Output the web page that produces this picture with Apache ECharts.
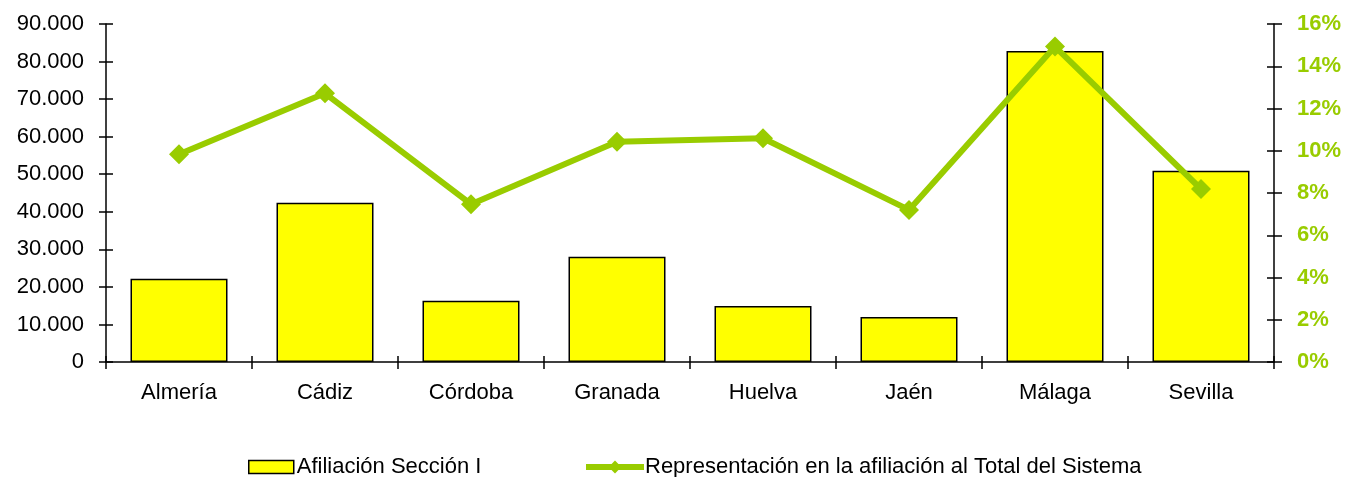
<!DOCTYPE html>
<html>
<head>
<meta charset="utf-8">
<script src="https://cdn.jsdelivr.net/npm/echarts@6/dist/echarts.min.js"></script>
<style>
html,body{margin:0;padding:0;background:#fff;}
#chart{width:1348px;height:477px;}
</style>
</head>
<body>
<div id="chart"></div>
<script>
const categories = ['Almería','Cádiz','Córdoba','Granada','Huelva','Jaén','Málaga','Sevilla'];
const afiliacion = [22200, 42400, 16300, 28000, 14900, 12000, 82800, 50900];
const representacion = [9.83, 12.72, 7.47, 10.43, 10.59, 7.20, 14.93, 8.19];
const barName = 'Afiliación Sección I';
const lineName = 'Representación en la afiliación al Total del Sistema';

const GREEN = '#99CC00';
const FONT = 'Liberation Sans, Arial, sans-serif';

function fmtThousands(v){
  return String(Math.round(v)).replace(/\B(?=(\d{3})+(?!\d))/g, '.');
}

const chart = echarts.init(document.getElementById('chart'), null, {renderer:'canvas'});
const leftBase = {type:'value', min:0, max:90000, interval:10000, position:'left', splitLine:{show:false}};
const rightBase = {type:'value', min:0, max:16, interval:2, position:'right', splitLine:{show:false}};
chart.setOption({
  animation:false,
  backgroundColor:'#fff',
  grid:{left:106, right:74, top:24, bottom:115, containLabel:false},
  legend:[
    {left:248, top:456, padding:0, itemWidth:45, itemHeight:13, itemGap:3,
     textStyle:{fontFamily:FONT, fontSize:22, color:'#000', padding:[0,0,0,-2]},
     data:[{name:barName, icon:'rect', itemStyle:{color:'#FFFF00', borderColor:'#000', borderWidth:1.5}}]},
    {left:583, top:456, padding:0, itemWidth:58, itemHeight:16, itemGap:3,
     textStyle:{fontFamily:FONT, fontSize:22, color:'#000', padding:[0,0,0,-4]},
     data:[{name:lineName, lineStyle:{width:6, color:GREEN}, itemStyle:{color:GREEN}}]}
  ],
  xAxis:[
    {type:'category', data:categories, boundaryGap:true,
     axisLine:{lineStyle:{color:'#000', width:1.5}},
     axisTick:{show:true, length:7, inside:false, lineStyle:{color:'#000', width:1.5}},
     axisLabel:{fontFamily:FONT, fontSize:22, color:'#000', margin:20}},
    {type:'category', data:categories, boundaryGap:true, position:'bottom',
     axisLine:{show:false},
     axisTick:{show:true, length:6, inside:true, lineStyle:{color:'#000', width:1.5}},
     axisLabel:{show:false}}
  ],
  yAxis:[
    Object.assign({}, leftBase, {
      axisLine:{show:true, lineStyle:{color:'#000', width:1.5}},
      axisTick:{show:true, length:7, inside:false, lineStyle:{color:'#000', width:1.5}},
      axisLabel:{fontFamily:FONT, fontSize:22, color:'#000', margin:22, formatter:fmtThousands}}),
    Object.assign({}, rightBase, {
      axisLine:{show:true, lineStyle:{color:'#000', width:1.5}},
      axisTick:{show:true, length:8, inside:false, lineStyle:{color:'#000', width:1.5}},
      axisLabel:{fontFamily:FONT, fontSize:22, fontWeight:'bold', color:GREEN, margin:23, formatter:v=>v+'%'}}),
    Object.assign({}, leftBase, {
      axisLine:{show:false},
      axisTick:{show:true, length:7, inside:true, lineStyle:{color:'#000', width:1.5}},
      axisLabel:{show:false}}),
    Object.assign({}, rightBase, {
      axisLine:{show:false},
      axisTick:{show:true, length:7, inside:true, lineStyle:{color:'#000', width:1.5}},
      axisLabel:{show:false}})
  ],
  series:[
    {name:barName, type:'bar', data:afiliacion, xAxisIndex:0, yAxisIndex:0, barWidth:97,
     itemStyle:{color:'#FFFF00', borderColor:'#000', borderWidth:1.5}, z:2},
    {name:lineName, type:'line', data:representacion, xAxisIndex:0, yAxisIndex:1,
     symbol:'diamond', symbolSize:20, showAllSymbol:true,
     lineStyle:{color:GREEN, width:6}, itemStyle:{color:GREEN}, z:5}
  ]
});
</script>
</body>
</html>
